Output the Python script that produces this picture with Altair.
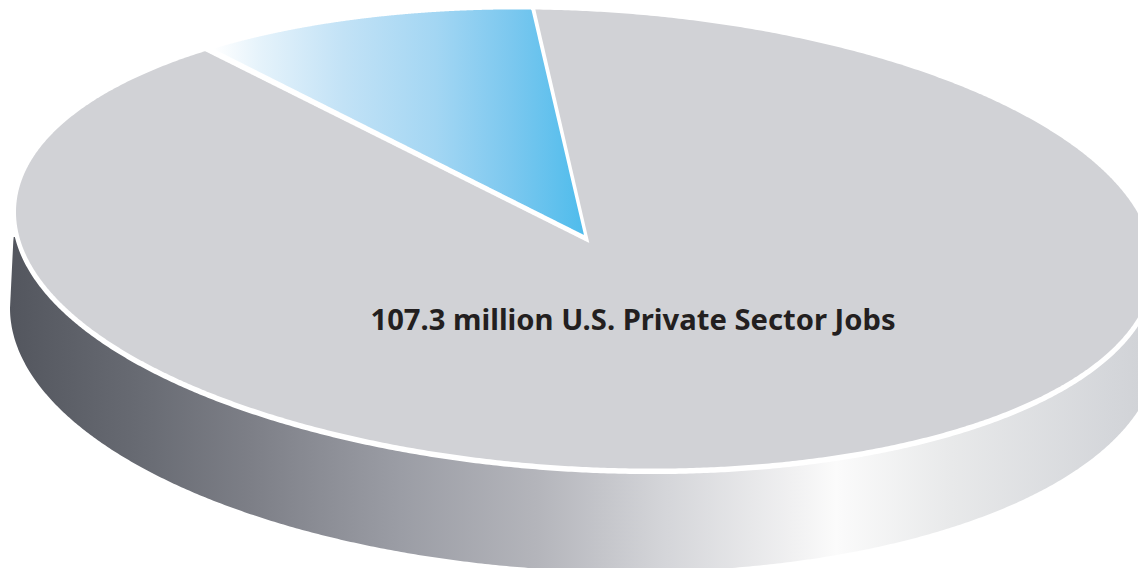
import altair as alt
import numpy as np
import pandas as pd

# Slice values, million jobs (the total is printed on the chart)
SLICE_NAMES = ["Highlighted share", "Other private sector jobs"]
SLICE_VALUES = [10.9, 96.4]
LABEL = "107.3 million U.S. Private Sector Jobs"

START_ANGLE = 94.96  # degrees, parametric angle of the slice's right edge

TOP = dict(cx=584.5, cy=239.0, a=568.5, b=228.0, c=27.0)
BOTTOM = dict(cx=584.0, cy=328.0, a=574.0, b=243.0, c=20.0)


def edge(e, x, upper):
    k = np.clip((x - e["cx"]) / e["a"], -1, 1)
    s = np.sqrt(1 - k * k)
    return e["cy"] + e["c"] * k + (-1 if upper else 1) * e["b"] * s


def grid(e, n=500):
    return e["cx"] + e["a"] * np.cos(np.linspace(np.pi, 0, n))


def point(e, deg):
    t = np.radians(deg)
    return (e["cx"] + e["a"] * np.cos(t), e["cy"] + e["c"] * np.cos(t) - e["b"] * np.sin(t))


xs = alt.X("x:Q", axis=None, scale=alt.Scale(domain=[8, 1138], nice=False, zero=False))
ys = alt.Y("y:Q", axis=None, scale=alt.Scale(domain=[568, 8], nice=False, zero=False))
y2 = alt.Y2("y2:Q")


def gradient(stops, x1=0, x2=1):
    return alt.Gradient(
        gradient="linear", x1=x1, x2=x2, y1=0, y2=0,
        stops=[alt.GradientStop(offset=o, color=c) for o, c in stops],
    )


# side wall
wx = grid(BOTTOM)
wall_df = pd.DataFrame({
    "x": wx,
    "y": edge(BOTTOM, wx, False),
    "y2": np.interp(wx, [10, 13.5, 1146], [308, 237, 270]),
})
wall_stops = [
    (0.00, "#53565e"), (0.12, "#696c74"), (0.21, "#7d7f87"), (0.34, "#9b9da5"),
    (0.46, "#b4b5bb"), (0.57, "#d4d5d9"), (0.68, "#f0f0f1"), (0.72, "#fbfbfb"),
    (0.82, "#e8e9ea"), (0.96, "#d4d6da"), (1.00, "#cfd1d5"),
]
wall = alt.Chart(wall_df).mark_area(clip=True, color=gradient(wall_stops)).encode(xs, ys, y2)

# white rim
tx = grid(TOP)
rim_df = pd.DataFrame({"x": tx, "y": edge(TOP, tx, False) + 1.5})
rim = alt.Chart(rim_df).mark_line(clip=True, color="#ffffff", strokeWidth=8).encode(xs, ys)

# top face
top_df = pd.DataFrame({"x": tx, "y": edge(TOP, tx, True), "y2": edge(TOP, tx, False)})
top = alt.Chart(top_df).mark_area(clip=True, color="#d1d2d6").encode(xs, ys, y2)


def wedge(apex, left, right, lift=0.0):
    """Area between the two edges of a slice, closed by the rim."""
    x = np.linspace(left[0] - 12, apex[0], 500)
    rim_y = edge(TOP, x, True) - lift
    left_y = apex[1] + (x - apex[0]) * (left[1] - apex[1]) / (left[0] - apex[0])
    right_y = apex[1] + (x - apex[0]) * (right[1] - apex[1]) / (right[0] - apex[0])
    upper = np.where(x < right[0], rim_y, np.maximum(rim_y, right_y))
    keep = left_y >= upper
    return pd.DataFrame({"x": x[keep], "y": upper[keep], "y2": left_y[keep]})


sweep = 360 * SLICE_VALUES[0] / sum(SLICE_VALUES)
R = point(TOP, START_ANGLE)
L = point(TOP, START_ANGLE + sweep)
L = (L[0], L[1] + 2)

white_df = wedge((589.3, 243.0), L, R, lift=3)
white = alt.Chart(white_df).mark_area(clip=True, color="#ffffff").encode(xs, ys, y2)

blue_df = wedge((584.0, 235.0), (L[0] + 9, L[1] - 2), (R[0] - 4, R[1]))
blue_stops = [
    (0.00, "#ffffff"), (0.12, "#e6f3fb"), (0.35, "#c2e2f6"), (0.60, "#a3d6f3"),
    (0.80, "#7cc8ef"), (1.00, "#4fbcec"),
]
blue = alt.Chart(blue_df).mark_area(clip=True, color=gradient(blue_stops)).encode(xs, ys, y2)

label = alt.Chart(pd.DataFrame({"x": [633], "y": [321], "t": [LABEL]})).mark_text(
    font="Noto Sans", fontWeight="bold", fontSize=29.2, color="#231f20",
    align="center", baseline="middle",
).encode(xs, ys, text="t:N")

chart = (wall + rim + top + white + blue + label).properties(
    width=1130, height=560, padding=0,
    background="#ffffff",
).configure_view(stroke=None)

chart.save("out.html", embed_options={"renderer": "svg", "actions": False})
